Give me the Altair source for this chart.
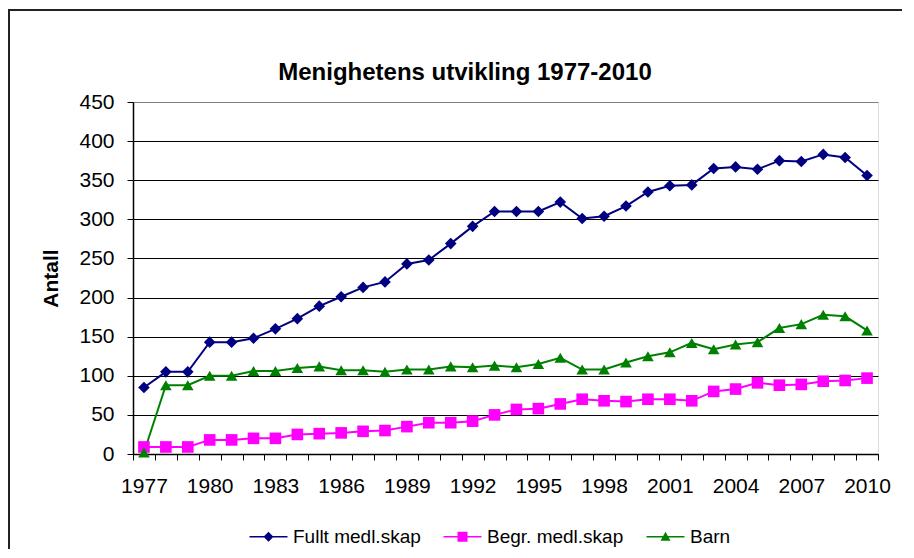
import altair as alt
import pandas as pd

years = list(range(1977, 2011))
fullt = [85, 105, 105, 143, 143, 148, 160, 173, 189, 201, 213, 220, 243, 248, 269, 291, 310,
         310, 310, 322, 301, 304, 317, 335, 343, 344, 365, 367, 364, 375, 374, 383, 379, 356]
begr = [9, 9, 9, 18, 18, 20, 20, 25, 26, 27, 29, 30, 35, 40, 40, 42, 50,
        57, 58, 64, 70, 68, 67, 70, 70, 68, 80, 83, 91, 88, 89, 93, 94, 97]
barn = [2, 88, 88, 100, 100, 106, 106, 110, 112, 107, 107, 105, 108, 108, 112, 111, 113,
        111, 115, 123, 108, 108, 117, 125, 130, 142, 134, 140, 143, 161, 166, 178, 176, 158]

series_names = ["Fullt medl.skap", "Begr. medl.skap", "Barn"]
series_colors = ["#000080", "#FF00FF", "#008000"]
plot_shapes = ["diamond", "square", "triangle-up"]
bar = "M-3.8,-0.16H3.8V0.16H-3.8Z "
legend_shapes = [bar + "M0,-1L1,0L0,1L-1,0Z",
                 bar + "M-1,-1H1V1H-1Z",
                 bar + "M0,-1L1,0.8H-1Z"]
title_text = ["Menighetens utvikling 1977-2010"]

rows = []
for name, vals in zip(series_names, [fullt, begr, barn]):
    for yr, v in zip(years, vals):
        rows.append({"year": yr, "series": name, "value": v})
df = pd.DataFrame(rows)

FONT = "Liberation Sans, Arial, sans-serif"

x_enc = alt.X(
    "year:O",
    scale=alt.Scale(type="band", paddingInner=0, paddingOuter=0),
    axis=alt.Axis(
        title=None,
        labelExpr="(datum.value - 1977) % 3 === 0 ? datum.label : ''",
        labelAngle=0, labelOverlap=False, tickBand="extent",
        labelFont=FONT, labelFontSize=21, labelColor="black", labelPadding=15,
        domainColor="black", domainWidth=1.5, tickColor="black", tickSize=6, tickWidth=1,
        grid=False,
    ),
)
y_enc = alt.Y(
    "value:Q",
    scale=alt.Scale(domain=[0, 450], nice=False),
    axis=alt.Axis(
        values=list(range(0, 451, 50)),
        title="Antall", titleFont=FONT, titleFontSize=21, titleFontWeight="bold",
        titleColor="black", titleX=-82, titleY=176, titleBaseline="middle", titleAlign="center",
        labelFont=FONT, labelFontSize=21, labelColor="black", labelPadding=13,
        domainColor="black", domainWidth=1.5, tickColor="black", tickSize=6, tickWidth=1,
        grid=True, gridWidth=1.2,
        gridColor={"condition": {"test": "datum.value === 450", "value": "#808080"}, "value": "black"},
    ),
)

color_plain = alt.Color("series:N", scale=alt.Scale(domain=series_names, range=series_colors), legend=None)

border = alt.Chart(pd.DataFrame({"k": [0]})).mark_rect(
    filled=False, stroke="#222222", strokeWidth=2
).encode(x=alt.value(-124), x2=alt.value(900), y=alt.value(-92), y2=alt.value(520))

title = alt.Chart(pd.DataFrame({"t": title_text})).mark_text(
    font=FONT, fontSize=24, fontWeight="bold", color="black", align="center", baseline="alphabetic"
).encode(text="t:N", x=alt.value(332), y=alt.value(-22))

lines = alt.Chart(df).mark_line(strokeWidth=2).encode(x=x_enc, y=y_enc, color=color_plain)

points = alt.Chart(df).mark_point(filled=True, size=135, opacity=1).encode(
    x=x_enc, y=y_enc, color=color_plain,
    shape=alt.Shape("series:N", scale=alt.Scale(domain=series_names, range=plot_shapes), legend=None),
)

leg = alt.Legend(
    title=None, orient="none", legendX=126, legendY=425, direction="horizontal",
    labelFont=FONT, labelFontSize=19, labelColor="black", symbolSize=100,
    symbolStrokeWidth=0, labelOffset=15, columnPadding=22, padding=0,
)
legend_layer = alt.Chart(df).transform_filter("false").mark_point(filled=True, opacity=1).encode(
    x=x_enc, y=y_enc,
    color=alt.Color("series:N", scale=alt.Scale(domain=series_names, range=series_colors), legend=leg),
    shape=alt.Shape("series:N", scale=alt.Scale(domain=series_names, range=legend_shapes), legend=leg),
)

chart = alt.layer(border, title, lines, points, legend_layer).resolve_scale(
    color="independent", shape="independent"
).properties(
    width=745, height=352,
    autosize=alt.AutoSizeParams(type="none"),
    padding={"left": 125, "top": 94, "right": 24, "bottom": 95},
).configure_view(fill="#C0C0C0", stroke="#808080", strokeWidth=2).configure(background="white")

chart.save("out.html", embed_options={"renderer": "svg", "actions": False})
